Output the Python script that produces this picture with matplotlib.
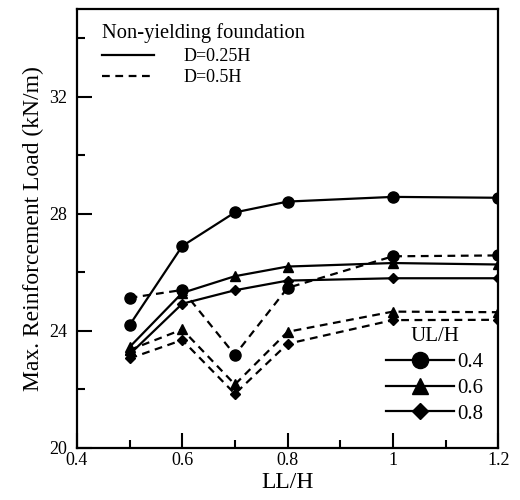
import matplotlib
matplotlib.use("Agg")
import matplotlib.pyplot as plt
from matplotlib.lines import Line2D
from matplotlib.ticker import MultipleLocator

plt.rcParams['font.family'] = ['Liberation Serif', 'DejaVu Serif']

# LL/H positions
ll_h = [0.5, 0.6, 0.7, 0.8, 1.0, 1.2]

# D = 0.25H (solid lines)
d025_ul04 = [24.2, 26.9, 28.05, 28.42, 28.58, 28.55]
d025_ul06 = [23.45, 25.3, 25.87, 26.2, 26.32, 26.27]
d025_ul08 = [23.2, 24.93, 25.39, 25.72, 25.8, 25.8]

# D = 0.5H (dashed lines)
d05_ul04 = [25.13, 25.4, 23.18, 25.47, 26.55, 26.58]
d05_ul06 = [23.35, 24.05, 22.17, 23.97, 24.66, 24.64]
d05_ul08 = [23.06, 23.69, 21.85, 23.56, 24.37, 24.38]

ul_labels = ['0.4', '0.6', '0.8']
markers = ['o', '^', 'D']
msizes = [8, 7.5, 5.5]

fig = plt.figure(figsize=(5.2, 5.0), dpi=100)
ax = fig.add_axes([0.148, 0.104, 0.81, 0.878])

solid = [d025_ul04, d025_ul06, d025_ul08]
dashed = [d05_ul04, d05_ul06, d05_ul08]
for ys, m, ms in zip(solid, markers, msizes):
    ax.plot(ll_h, ys, color='black', lw=1.6, marker=m, ms=ms)
for ys, m, ms in zip(dashed, markers, msizes):
    ax.plot(ll_h, ys, color='black', lw=1.6, marker=m, ms=ms,
            linestyle=(0, (3.5, 2.5)))

ax.set_xlim(0.4, 1.2)
ax.set_ylim(20, 35)
ax.xaxis.set_minor_locator(MultipleLocator(0.1))
ax.yaxis.set_major_locator(MultipleLocator(4))
ax.yaxis.set_minor_locator(MultipleLocator(2))
ax.set_xticks([0.4, 0.6, 0.8, 1.0, 1.2])
ax.set_xticklabels(['0.4', '0.6', '0.8', '1', '1.2'])
ax.tick_params(which='both', direction='in', top=False, right=False,
               labelsize=13, width=1.5)
ax.tick_params(which='major', length=11)
ax.tick_params(which='minor', length=6)
ax.tick_params(axis='x', pad=3)
ax.tick_params(axis='y', pad=7)
for s in ax.spines.values():
    s.set_linewidth(1.6)

ax.set_xlabel('LL/H', fontsize=17, labelpad=2)
ax.set_ylabel('Max. Reinforcement Load (kN/m)', fontsize=17, labelpad=4)

# foundation / depth legend
h1 = [Line2D([], [], color='black', lw=1.6),
      Line2D([], [], color='black', lw=1.6, linestyle=(0, (3.5, 2.5)))]
leg1 = ax.legend(h1, ['D=0.25H', 'D=0.5H'], title='Non-yielding foundation',
                 loc='upper left', bbox_to_anchor=(0.025, 1.0), frameon=False,
                 fontsize=13, title_fontsize=14.8, handlelength=2.9,
                 handletextpad=1.6, labelspacing=0.25, borderpad=0.3)
leg1._legend_box.align = 'left'
ax.add_artist(leg1)

# UL/H marker legend
h2 = [Line2D([], [], color='black', lw=1.6, marker=m, ms=s * 1.45)
      for m, s in zip(markers, msizes)]
ax.legend(h2, ul_labels, title='UL/H', loc='lower right',
          bbox_to_anchor=(1.0, 0.022), frameon=False, fontsize=15,
          title_fontsize=15, handlelength=3.3, handletextpad=0.15,
          labelspacing=0.3, borderpad=0.2)

fig.savefig('out.png', dpi=100)
